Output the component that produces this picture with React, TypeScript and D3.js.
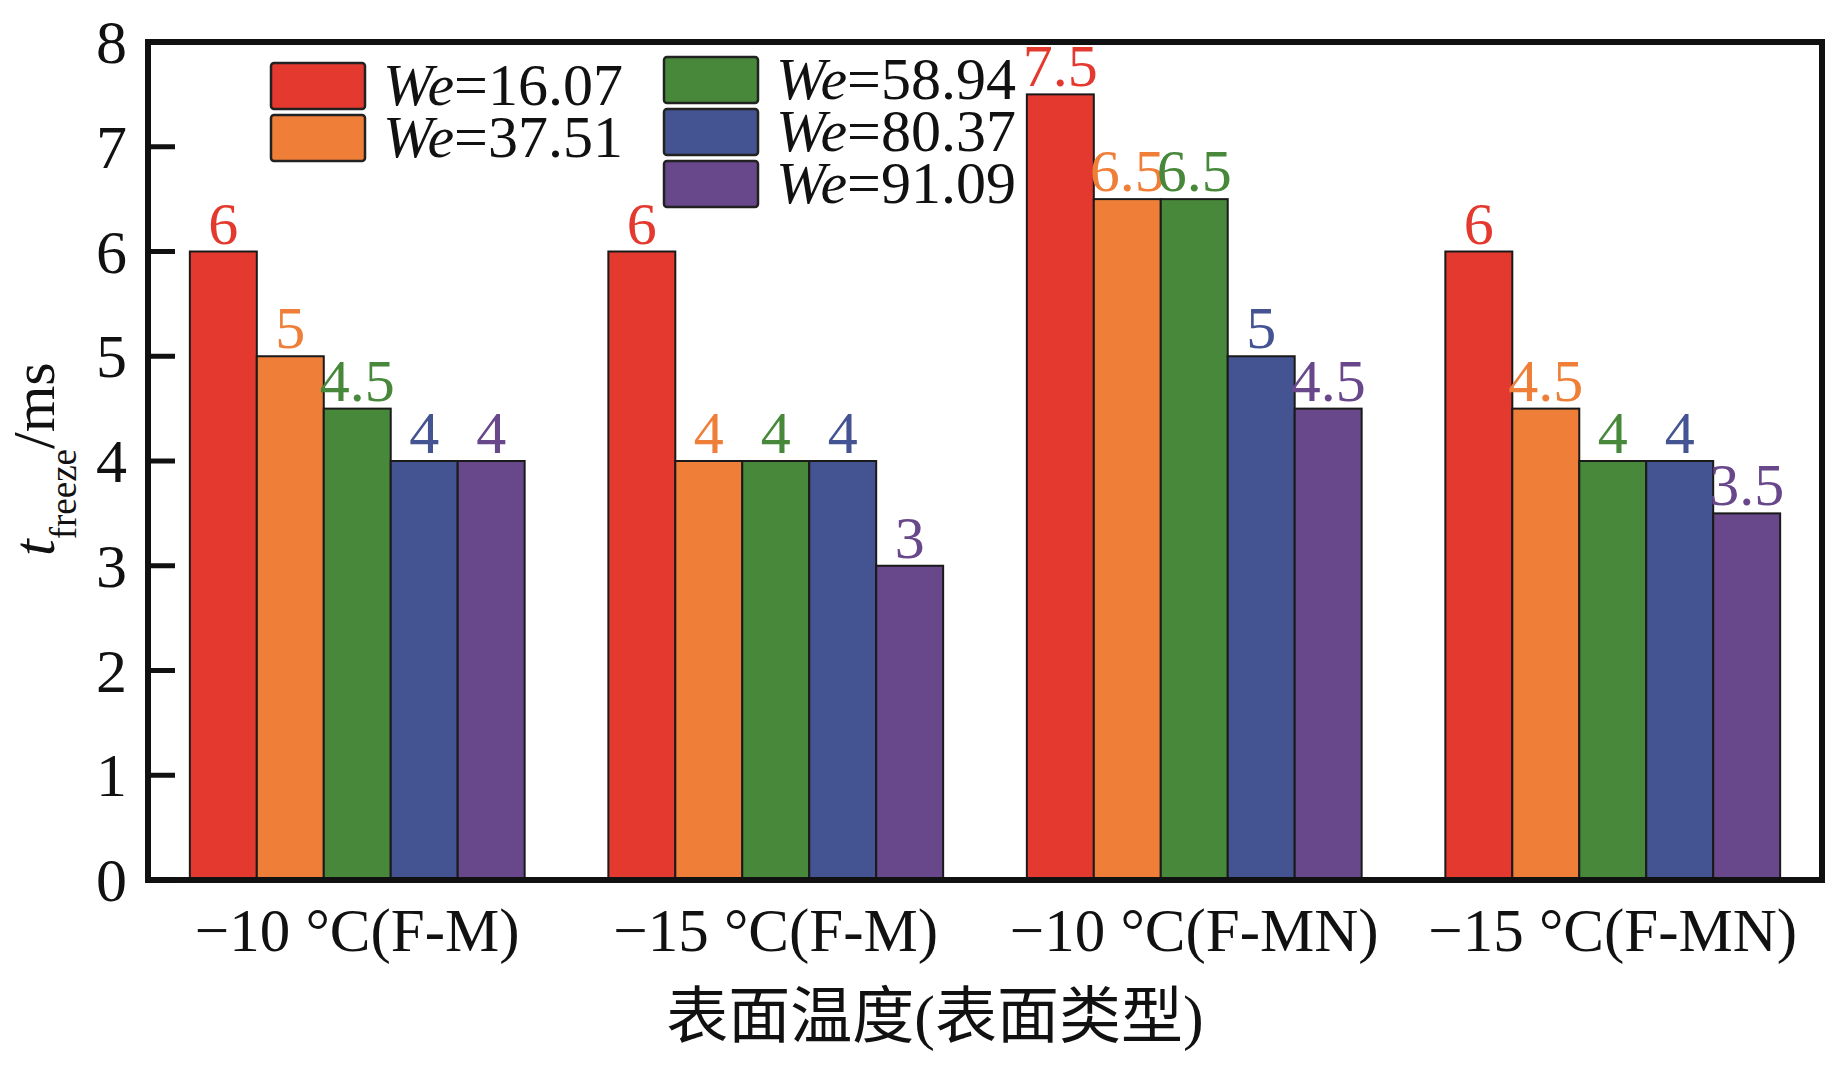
import * as d3 from 'd3';

const categories = ['−10 °C(F-M)', '−15 °C(F-M)', '−10 °C(F-MN)', '−15 °C(F-MN)'];
const seriesNames = ['16.07', '37.51', '58.94', '80.37', '91.09'];
const seriesColors = ['#e4392f', '#ef7f38', '#47883a', '#445391', '#68478a'];

// one array per We value, in category order
const we1607 = [6, 6, 7.5, 6];
const we3751 = [5, 4, 6.5, 4.5];
const we5894 = [4.5, 4, 6.5, 4];
const we8037 = [4, 4, 5, 4];
const we9109 = [4, 3, 4.5, 3.5];
const series = [we1607, we3751, we5894, we8037, we9109];

const yTicks = [0, 1, 2, 3, 4, 5, 6, 7, 8];

const W = 1831;
const H = 1069;
const margin = { left: 148, right: W - 1822, top: 42, bottom: H - 880 };

const serif = '"Liberation Serif", "Times New Roman", serif';
const cjk = '"Liberation Serif", "Noto Sans CJK SC", serif';

export default function App() {
  const x0 = d3.scaleBand<string>()
    .domain(categories)
    .range([margin.left, W - margin.right])
    .paddingInner(0.2)
    .paddingOuter(0.1);

  const x1 = d3.scaleBand<number>()
    .domain(d3.range(seriesNames.length))
    .range([0, x0.bandwidth()]);

  const y = d3.scaleLinear()
    .domain([0, 8])
    .range([H - margin.bottom, margin.top]);

  // legend laid out in two columns: 2 items then 3 items
  const legendCols = [
    { x: 271, top: 63, items: [0, 1] },
    { x: 664, top: 57, items: [2, 3, 4] },
  ];

  return (
    <div>
      <style>{`body{margin:0}`}</style>
      <svg width={W} height={H} style={{ display: 'block', background: '#fff' }}>
        {/* bars */}
        {categories.map((cat, ci) => (
          <g key={cat} transform={`translate(${x0(cat)},0)`}>
            {series.map((vals, si) => (
              <rect
                key={si}
                x={x1(si)}
                y={y(vals[ci])}
                width={x1.bandwidth()}
                height={y(0) - y(vals[ci])}
                fill={seriesColors[si]}
                stroke="#1a1a1a"
                strokeWidth={2}
              />
            ))}
            {series.map((vals, si) => (
              <text
                key={'l' + si}
                x={(x1(si) as number) + x1.bandwidth() / 2}
                y={y(vals[ci]) - 8}
                textAnchor="middle"
                fill={seriesColors[si]}
                fontFamily={serif}
                fontSize={60}
              >
                {vals[ci]}
              </text>
            ))}
          </g>
        ))}

        {/* frame */}
        <rect
          x={margin.left}
          y={margin.top}
          width={W - margin.left - margin.right}
          height={H - margin.top - margin.bottom}
          fill="none"
          stroke="#111"
          strokeWidth={6}
        />

        {/* y ticks */}
        {yTicks.map((t) => (
          <g key={t}>
            <line x1={margin.left} x2={margin.left + 27} y1={y(t)} y2={y(t)} stroke="#111" strokeWidth={5} />
            <text x={127} y={y(t)} dy="0.34em" textAnchor="end" fontFamily={serif} fontSize={62} fill="#111">
              {t}
            </text>
          </g>
        ))}

        {/* x category labels */}
        {categories.map((cat) => (
          <text
            key={cat}
            x={(x0(cat) as number) + x0.bandwidth() / 2}
            y={951}
            textAnchor="middle"
            fontFamily={serif}
            fontSize={61}
            fill="#111"
          >
            {cat}
          </text>
        ))}

        {/* axis titles */}
        <text x={935} y={1038} textAnchor="middle" fontFamily={cjk} fontSize={62} fill="#111">
          表面温度(表面类型)
        </text>
        <text transform="translate(54,556) rotate(-90)" fontFamily={serif} fontSize={60} fill="#111">
          <tspan fontStyle="italic">t</tspan>
          <tspan fontSize={37} dy={22}>freeze</tspan>
          <tspan dy={-22}>/ms</tspan>
        </text>

        {/* legend */}
        {legendCols.map((col) =>
          col.items.map((si, ri) => {
            const top = col.top + ri * 52;
            return (
              <g key={si}>
                <rect x={col.x} y={top} width={94} height={46} rx={3} fill={seriesColors[si]} stroke="#222" strokeWidth={2.5} />
                <text x={col.x + 112} y={top + 42} fontFamily={serif} fontSize={60} fill="#111">
                  <tspan fontStyle="italic">We</tspan>
                  <tspan>={seriesNames[si]}</tspan>
                </text>
              </g>
            );
          })
        )}
      </svg>
    </div>
  );
}
